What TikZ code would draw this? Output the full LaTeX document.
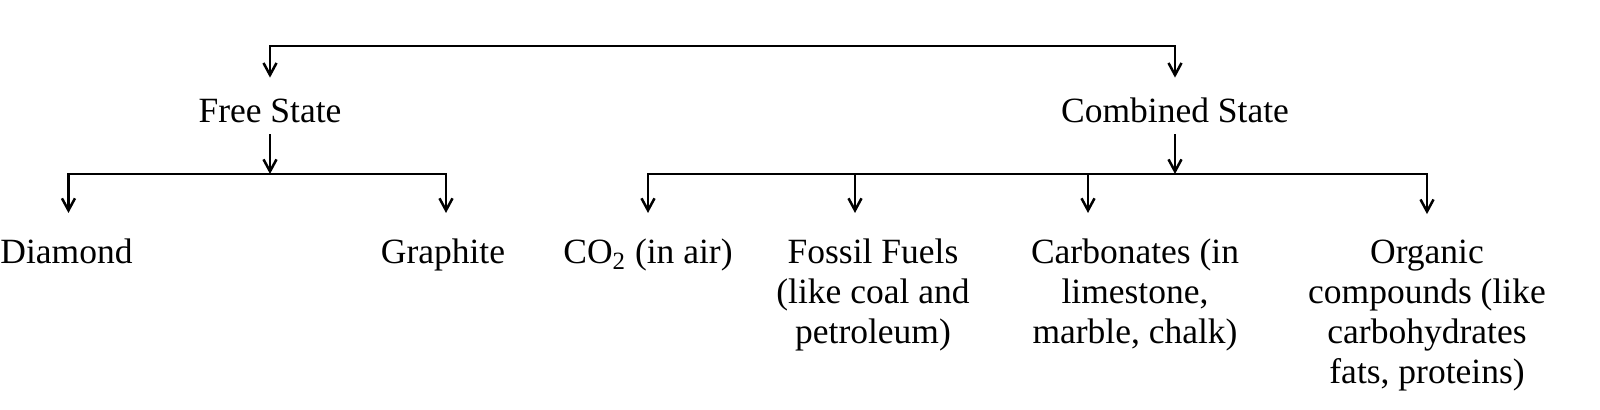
\documentclass[tikz,border=0pt]{standalone}
\usepackage{fontspec}
\setmainfont{Liberation Serif}
\usetikzlibrary{arrows.meta}
\begin{document}
\begin{tikzpicture}[x=0.5pt,y=-0.5pt,
  ln/.style={line width=1.25pt},
  arr/.style={ln,-{Straight Barb[length=6pt,width=6.5pt]}},
  both/.style={ln,{Straight Barb[length=6pt,width=6.5pt]}-{Straight Barb[length=6pt,width=6.5pt]}},
  lbl/.style={font=\fontsize{17.75pt}{20pt}\selectfont, inner sep=0pt, align=center},
  statebox/.style={lbl, anchor=base, text height=17pt, text depth=0pt, inner ysep=5.5pt}
]
\useasboundingbox (0,0) rectangle (1600,410);
\coordinate (lvl1) at (0,46);
\coordinate (lvl2) at (0,174);
% level 1
\node[statebox] (free) at (270,123) {Free State};
\node[statebox] (comb) at (1175,123) {Combined State};
% level 2 (anchor base = baseline of the last line)
\node[lbl, anchor=base west] (diamond) at (0,264) {Diamond};
\node[lbl, anchor=base] (graphite) at (443,264) {Graphite};
\node[lbl, anchor=base] (co2) at (648,264) {CO\textsubscript{2} (in air)};
\node[lbl, anchor=base] (fossil) at (873,344) {Fossil Fuels\\(like coal and\\petroleum)};
\node[lbl, anchor=base] (carb) at (1135,344) {Carbonates (in\\limestone,\\marble, chalk)};
\node[lbl, anchor=base] (org) at (1427,384) {Organic\\compounds (like\\carbohydrates\\fats, proteins)};
% arrow tips
\coordinate (dtip) at ([xshift=1pt,yshift=13pt]diamond.north);
\coordinate (gtip) at ([xshift=1.5pt,yshift=13pt]graphite.north);
\coordinate (ctip) at ([yshift=13pt]co2.north);
\coordinate (ftip) at ([xshift=-9pt,yshift=13pt]fossil.north);
\coordinate (ktip) at ([xshift=-23.5pt,yshift=13pt]carb.north);
\coordinate (otip) at ([yshift=13pt]org.north);
% connectors
\draw[both] (free.north) -- (free.north |- lvl1) -- (comb.north |- lvl1) -- (comb.north);
\draw[arr] (free.south) -- (free.south |- lvl2);
\draw[arr] (comb.south) -- (comb.south |- lvl2);
\draw[both] (dtip) -- (dtip |- lvl2) -- (gtip |- lvl2) -- (gtip);
\draw[both] (ctip) -- (ctip |- lvl2) -- (otip |- lvl2) -- (otip);
\draw[arr] (ftip |- lvl2) -- (ftip);
\draw[arr] (ktip |- lvl2) -- (ktip);
\end{tikzpicture}
\end{document}
